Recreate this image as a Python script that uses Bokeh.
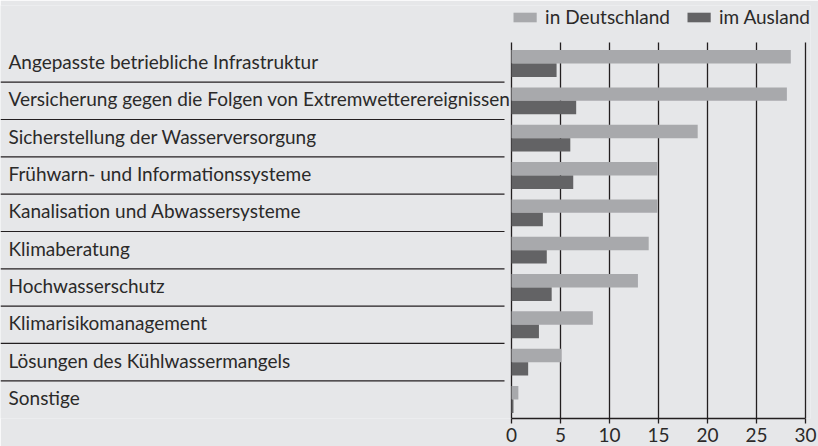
from bokeh.plotting import figure
from bokeh.models import Range1d, LinearAxis, Legend, LegendItem, FixedTicker, ColumnDataSource, Grid
from bokeh.embed import file_html
from bokeh.resources import INLINE
from bokeh.core.properties import value

# ---- data ----
categories = [
    "Angepasste betriebliche Infrastruktur",
    "Versicherung gegen die Folgen von Extremwetterereignissen",
    "Sicherstellung der Wasserversorgung",
    "Frühwarn- und Informationssysteme",
    "Kanalisation und Abwassersysteme",
    "Klimaberatung",
    "Hochwasserschutz",
    "Klimarisikomanagement",
    "Lösungen des Kühlwassermangels",
    "Sonstige",
]
deutschland = [28.5, 28.1, 19.0, 14.9, 14.9, 14.0, 12.9, 8.3, 5.1, 0.7]
ausland = [4.6, 6.6, 6.0, 6.3, 3.2, 3.6, 4.1, 2.8, 1.7, 0.2]
series_names = ["in Deutschland", "im Ausland"]
x_ticks = [0, 5, 10, 15, 20, 25, 30]

# ---- style ----
BG = "#e6e7e9"
C_DE = "#a8a9ac"
C_AU = "#636365"
DARK = "#231f20"
TEXT = "#2b2a29"
FONT = "Lato"

W, H = 818, 446
X0, X1 = -52.143, 30.51          # frame: left edge of figure to 8px before right edge
Y_TOP, Y_BOTTOM = -1.554, 9.51   # row i centred at y = i
GRID_TOP = -0.5625
SEP_END = -0.714
BAR_H = 0.36

n = len(categories)
rows = list(range(n))

p = figure(width=W, height=H,
           x_range=Range1d(X0, X1), y_range=Range1d(Y_BOTTOM, Y_TOP),
           x_axis_type=None, y_axis_type=None,
           output_backend="svg", toolbar_location=None,
           min_border_left=0, min_border_right=8, min_border_top=5, min_border_bottom=28,
           background_fill_color=BG, border_fill_color=BG, outline_line_color=None)

ticker = FixedTicker(ticks=x_ticks)

grid = Grid(dimension=0, ticker=ticker, grid_line_color=DARK, grid_line_width=1.3,
            bounds=(0, 30), cross_bounds=(GRID_TOP, Y_BOTTOM))
p.add_layout(grid)

axis = LinearAxis(ticker=ticker, bounds=(0, 30),
                  axis_line_color=DARK, axis_line_width=1.3,
                  major_tick_line_color=DARK, major_tick_line_width=1.3,
                  major_tick_in=0, major_tick_out=5, minor_tick_out=0, minor_tick_in=0,
                  major_label_standoff=4,
                  major_label_text_font=FONT, major_label_text_font_size="19px",
                  major_label_text_color=TEXT)
p.add_layout(axis, "below")

src = ColumnDataSource(dict(
    y_de=[r - BAR_H / 2 for r in rows],
    y_au=[r + BAR_H / 2 for r in rows],
    de=deutschland, au=ausland,
))
r_de = p.hbar(y="y_de", right="de", left=0, height=BAR_H, source=src,
              fill_color=C_DE, line_color=None)
r_au = p.hbar(y="y_au", right="au", left=0, height=BAR_H, source=src,
              fill_color=C_AU, line_color=None)

# category labels
p.text(x=[X0] * n, y=rows, text=categories, x_offset=8, y_offset=-2,
       text_font=value(FONT), text_font_size="19px",
       text_baseline="middle", text_align="left", text_color=TEXT)

# separators between rows
seps = [r + 0.5 for r in rows[:-1]]
p.segment(x0=[X0] * len(seps), y0=seps, x1=[SEP_END] * len(seps), y1=seps,
          line_color=DARK, line_width=1.2)

legend = Legend(items=[LegendItem(label=series_names[0], renderers=[r_de]),
                       LegendItem(label=series_names[1], renderers=[r_au])],
                orientation="horizontal", location="top_right",
                margin=0, padding=0, spacing=14,
                glyph_width=29, glyph_height=12, label_standoff=6,
                label_text_font=FONT, label_text_font_size="19px",
                label_text_color=TEXT,
                background_fill_alpha=0, border_line_alpha=0)
p.add_layout(legend)

open("out.html", "w").write(file_html(p, INLINE))
